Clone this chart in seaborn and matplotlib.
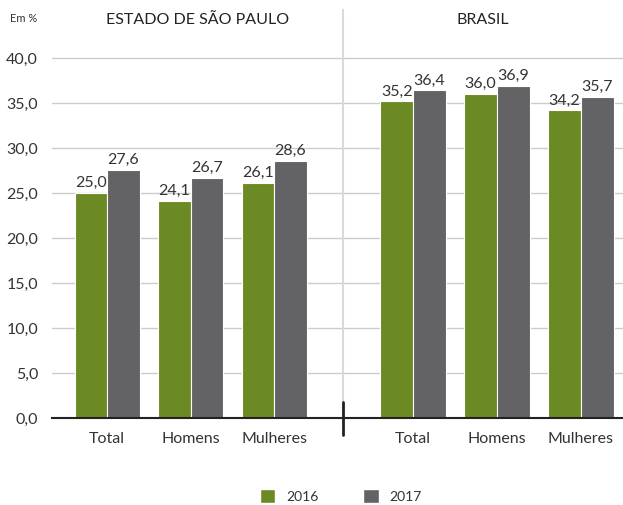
import matplotlib
matplotlib.use("Agg")
import matplotlib.pyplot as plt
from matplotlib.lines import Line2D
from matplotlib.patches import Patch
import seaborn as sns
import pandas as pd

categories = ["Total", "Homens", "Mulheres"]
years = ["2016", "2017"]
sp_2016 = [25.0, 24.1, 26.1]
sp_2017 = [27.6, 26.7, 28.6]
br_2016 = [35.2, 36.0, 34.2]
br_2017 = [36.4, 36.9, 35.7]
yticks = [0, 5, 10, 15, 20, 25, 30, 35, 40]

GREEN = "#6b8a23"
GRAY = "#636264"
TEXT = "#333333"

sns.set_theme(style="white")
plt.rcParams["font.family"] = ["Lato", "DejaVu Sans"]


def frame(v16, v17):
    return pd.DataFrame({
        "categoria": categories * 2,
        "ano": [years[0]] * 3 + [years[1]] * 3,
        "valor": list(v16) + list(v17),
    })


W, H = 623, 505
fig = plt.figure(figsize=(W / 100, H / 100), dpi=100)
base_y, top_y = 418, 10
x0, xmid, x1 = 52, 343, 623
ax_l = fig.add_axes([x0 / W, (H - base_y) / H, (xmid - x0) / W, (base_y - top_y) / H])
ax_r = fig.add_axes([xmid / W, (H - base_y) / H, (x1 - xmid) / W, (base_y - top_y) / H],
                    sharey=ax_l)

ymax = (base_y - top_y) / 9.0
panels = [
    (ax_l, frame(sp_2016, sp_2017), "ESTADO DE SÃO PAULO", (-0.66, 2.825)),
    (ax_r, frame(br_2016, br_2017), "BRASIL", (-0.833, 2.5)),
]

for ax, df, title, xl in panels:
    sns.barplot(data=df, x="categoria", y="valor", hue="ano",
                palette=[GREEN, GRAY], saturation=1, width=0.78,
                edgecolor="white", linewidth=0.8, ax=ax, legend=False, zorder=3)
    for cont in ax.containers:
        ax.bar_label(cont, labels=[f"{b.get_height():.1f}".replace(".", ",") for b in cont],
                     padding=2, fontsize=11.5, color=TEXT)
    ax.set_xlim(*xl)
    ax.set_ylim(0, ymax)
    ax.set_yticks(yticks)
    ax.set_xlabel("")
    ax.set_ylabel("")
    ax.grid(axis="y", color="#cccccc", linewidth=1.0, zorder=0)
    ax.set_axisbelow(True)
    for s in ["top", "right", "left"]:
        ax.spines[s].set_visible(False)
    ax.spines["bottom"].set_color("#222222")
    ax.spines["bottom"].set_linewidth(1.5)
    ax.spines["bottom"].set_zorder(5)
    ax.tick_params(axis="x", length=0, pad=10, labelsize=11.5, labelcolor=TEXT)
    ax.tick_params(axis="y", length=0, pad=10, labelsize=11.5, labelcolor=TEXT)
    ax.text(0.5, 1 - 10 / (base_y - top_y), title, transform=ax.transAxes,
            ha="center", va="center", fontsize=11.5, color="#222222")

ax_l.set_yticklabels([f"{t:.1f}".replace(".", ",") for t in yticks])
ax_r.tick_params(axis="y", labelleft=False)
ax_r.spines["left"].set_visible(True)
ax_r.spines["left"].set_color("#d9d9d9")
ax_r.spines["left"].set_linewidth(1.5)

# dark tick across the baseline at the panel divider
fig.add_artist(Line2D([xmid / W, xmid / W], [(H - 435) / H, (H - 402) / H],
                      color="#222222", linewidth=2))

fig.text(10 / W, 1 - 19 / H, "Em %", fontsize=8, color=TEXT, va="center")

handles = [Patch(facecolor=GREEN, label=years[0]), Patch(facecolor=GRAY, label=years[1])]
fig.legend(handles=handles, loc="center", bbox_to_anchor=(341 / W, 1 - 496 / H),
           ncol=2, frameon=False, fontsize=10, handlelength=1.1, handleheight=1.1,
           columnspacing=3.2, handletextpad=0.8, labelcolor=TEXT)

fig.savefig("out.png", dpi=100)
